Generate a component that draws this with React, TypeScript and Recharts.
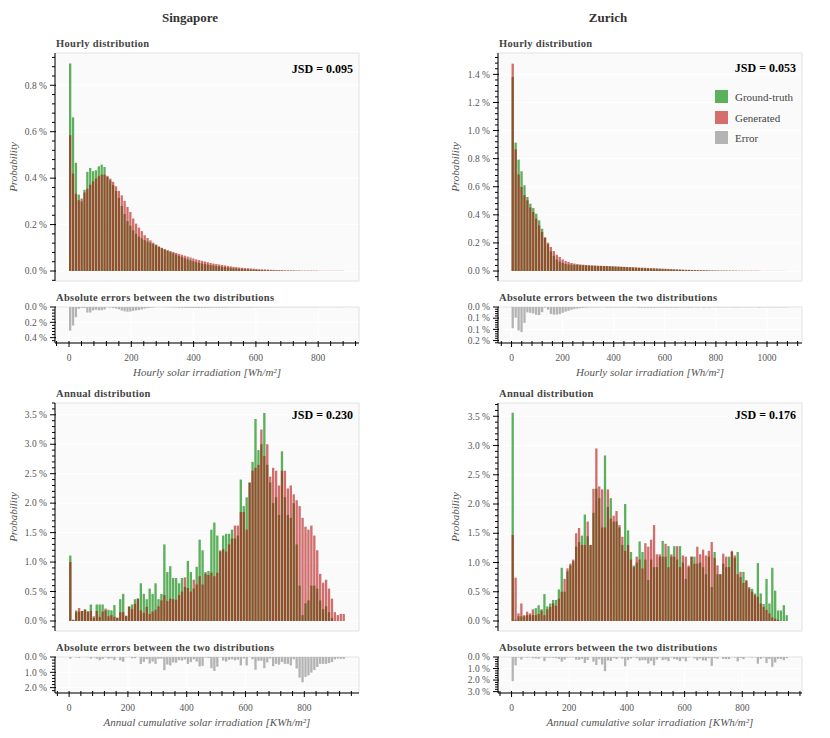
import { BarChart, Bar, XAxis, YAxis, CartesianGrid, ReferenceArea } from 'recharts'

const FONT = '"Liberation Serif", "Times New Roman", serif'
const GREEN = '#5cb05c'
const RED = 'rgb(178,16,14)'
const GREY = '#b4b4b4'

// ---- Singapore, hourly (bin width ~9.2 Wh/m²)
const SG_HOURLY_BIN = 9.2
const SG_HOURLY_GT = [
  0.894, 0.662, 0.466, 0.329, 0.30, 0.35, 0.427, 0.444, 0.43, 0.434,
  0.451, 0.458, 0.448, 0.405, 0.39, 0.37, 0.345, 0.315, 0.28, 0.245,
  0.215, 0.195, 0.175, 0.16, 0.148, 0.14, 0.133, 0.127, 0.122, 0.116,
  0.111, 0.104, 0.098, 0.092, 0.087, 0.081, 0.076, 0.071, 0.065, 0.06,
  0.055, 0.05, 0.046, 0.042, 0.038, 0.035, 0.032, 0.03, 0.028, 0.026,
  0.024, 0.022, 0.02, 0.018, 0.017, 0.015, 0.014, 0.012, 0.011, 0.01,
  0.009, 0.008, 0.007, 0.006, 0.006, 0.005, 0.004, 0.004, 0.003, 0.003,
  0.002, 0.002, 0.002, 0.002, 0.001, 0.001, 0.001, 0.001, 0.001, 0.001,
  0.001, 0, 0, 0, 0, 0, 0, 0, 0, 0,
  0, 0, 0, 0, 0, 0,
]
const SG_HOURLY_GEN = [
  0.585, 0.42, 0.333, 0.305, 0.312, 0.338, 0.355, 0.372, 0.386, 0.398,
  0.408, 0.415, 0.415, 0.41, 0.398, 0.384, 0.365, 0.345, 0.326, 0.302,
  0.276, 0.254, 0.226, 0.204, 0.187, 0.172, 0.154, 0.142, 0.132, 0.122,
  0.114, 0.106, 0.1, 0.095, 0.09, 0.086, 0.082, 0.078, 0.074, 0.07,
  0.066, 0.062, 0.058, 0.054, 0.05, 0.047, 0.044, 0.041, 0.038, 0.035,
  0.032, 0.03, 0.028, 0.026, 0.024, 0.022, 0.02, 0.018, 0.017, 0.015,
  0.014, 0.013, 0.012, 0.011, 0.01, 0.009, 0.008, 0.007, 0.007, 0.006,
  0.005, 0.005, 0.004, 0.004, 0.004, 0.003, 0.003, 0.003, 0.003, 0.002,
  0.002, 0.002, 0.002, 0.002, 0.002, 0.002, 0.002, 0.001, 0.001, 0.001,
  0.001, 0.001, 0.001, 0.001, 0.001, 0.001,
]

// ---- Zurich, hourly (bin width ~11.5 Wh/m²)
const ZH_HOURLY_BIN = 11.5
const ZH_HOURLY_GT = [
  1.381, 0.914, 0.793, 0.71, 0.61, 0.527, 0.479, 0.449, 0.408, 0.361,
  0.301, 0.237, 0.19, 0.14, 0.108, 0.082, 0.068, 0.057, 0.05, 0.047,
  0.045, 0.044, 0.043, 0.042, 0.041, 0.04, 0.039, 0.038, 0.037, 0.036,
  0.036, 0.035, 0.034, 0.033, 0.032, 0.031, 0.03, 0.029, 0.028, 0.027,
  0.026, 0.025, 0.024, 0.022, 0.021, 0.02, 0.019, 0.018, 0.017, 0.016,
  0.015, 0.014, 0.013, 0.012, 0.011, 0.01, 0.009, 0.009, 0.008, 0.007,
  0.007, 0.006, 0.006, 0.005, 0.005, 0.004, 0.004, 0.003, 0.003, 0.003,
  0.002, 0.002, 0.002, 0.002, 0.002, 0.002, 0.001, 0.001, 0.001, 0.001,
  0.001, 0.001, 0.001, 0.001, 0, 0, 0, 0, 0, 0,
  0, 0, 0, 0,
]
const ZH_HOURLY_GEN = [
  1.476, 0.866, 0.688, 0.598, 0.539, 0.503, 0.453, 0.42, 0.373, 0.325,
  0.278, 0.24, 0.202, 0.171, 0.142, 0.116, 0.1, 0.083, 0.071, 0.064,
  0.057, 0.053, 0.05, 0.047, 0.045, 0.043, 0.041, 0.04, 0.039, 0.038,
  0.037, 0.036, 0.036, 0.035, 0.034, 0.033, 0.032, 0.031, 0.03, 0.029,
  0.028, 0.027, 0.026, 0.025, 0.024, 0.023, 0.022, 0.021, 0.02, 0.019,
  0.018, 0.017, 0.016, 0.015, 0.014, 0.013, 0.012, 0.011, 0.01, 0.009,
  0.009, 0.008, 0.007, 0.007, 0.006, 0.006, 0.005, 0.005, 0.004, 0.004,
  0.004, 0.003, 0.003, 0.003, 0.003, 0.003, 0.003, 0.002, 0.002, 0.002,
  0.002, 0.002, 0.002, 0.002, 0.002, 0.001, 0.001, 0.001, 0.001, 0.001,
  0.001, 0.001, 0.001, 0.001,
]

// ---- Singapore, annual (bin width 10 KWh/m²)
const SG_ANNUAL_BIN = 10
const SG_ANNUAL_GT = [
  1.11, 0.02, 0.18, 0.16, 0.17, 0.2, 0.17, 0.28, 0.05, 0.28,
  0.28, 0.28, 0.18, 0.19, 0.18, 0.27, 0.05, 0.37, 0.46, 0.08,
  0.25, 0.28, 0.37, 0.38, 0.64, 0.46, 0.37, 0.55, 0.46, 0.64,
  0.37, 0.46, 1.3, 0.83, 0.93, 0.73, 0.73, 0.64, 0.73, 0.58,
  1.02, 0.83, 0.55, 0.92, 1.38, 1.2, 0.83, 0.85, 1.55, 1.67,
  1.45, 1.2, 1.45, 1.48, 1.48, 1.55, 1.4, 1.45, 2.4, 1.95,
  2.1, 2.35, 2.7, 3.43, 2.9, 3.0, 3.53, 2.65, 2.35, 2.0,
  2.1, 1.8, 2.88, 2.1, 1.8, 1.75, 2.0, 1.3, 0.6, 0.1,
  0.3, 0.35, 0.6, 0.6, 0.55, 0.35, 0.2, 0.25, 0.15, 0.05,
  0, 0, 0, 0,
]
const SG_ANNUAL_GEN = [
  1.0, 0.02, 0.15, 0.22, 0.17, 0.19, 0.15, 0.17, 0.08, 0.17,
  0.07, 0.16, 0.21, 0.08, 0.1, 0.07, 0.06, 0.15, 0.15, 0.09,
  0.24, 0.2, 0.29, 0.38, 0.18, 0.14, 0.24, 0.12, 0.16, 0.19,
  0.25, 0.35, 0.44, 0.34, 0.38, 0.37, 0.36, 0.44, 0.5, 0.74,
  0.56, 0.5, 0.7, 0.62, 0.76, 0.62, 0.8, 0.78, 0.82, 0.76,
  0.82, 1.18, 1.22, 1.18, 1.3, 1.4, 1.62, 1.62, 1.85, 1.85,
  1.55, 2.35, 2.55, 2.6, 2.65, 3.25, 2.8, 3.0, 2.45, 2.6,
  2.55, 2.3, 2.55, 2.55, 2.25, 2.3, 2.15, 2.05, 1.95, 1.75,
  1.6, 1.55, 1.62, 1.45, 1.2, 0.8, 0.65, 0.7, 0.55, 0.38,
  0.15, 0.1, 0.12, 0.12,
]

// ---- Zurich, annual (bin width 10 KWh/m²)
const ZH_ANNUAL_BIN = 10
const ZH_ANNUAL_GT = [
  3.56, 0.02, 0.08, 0.08, 0.08, 0.1, 0.1, 0.1, 0.22, 0.27,
  0.2, 0.46, 0.25, 0.3, 0.36, 0.36, 0.54, 0.91, 0.5, 0.85,
  0.95, 1.02, 1.27, 1.35, 1.46, 1.82, 1.45, 1.3, 1.85, 2.26,
  2.1, 1.6, 2.83, 1.95, 2.1, 1.7, 1.7, 1.6, 1.3, 2.0,
  1.55, 1.18, 0.95, 1.0, 1.36, 1.18, 1.05, 0.7, 1.05, 0.92,
  0.92, 1.1, 1.37, 1.1, 1.28, 1.1, 1.28, 1.05, 1.28, 1.0,
  0.72, 0.92, 1.1, 1.1, 0.98, 1.0, 0.92, 0.8, 1.1, 0.58,
  1.18, 0.8, 0.8, 0.98, 0.92, 1.1, 1.18, 1.08, 1.18, 0.75,
  0.84, 0.68, 0.55, 0.55, 0.47, 0.99, 0.47, 0.29, 0.72, 0.3,
  0.91, 0.52, 0.18, 0.18, 0.27, 0.1,
]
const ZH_ANNUAL_GEN = [
  1.47, 0.74, 0.13, 0.3, 0.1, 0.16, 0.13, 0.2, 0.1, 0.12,
  0.18, 0.1, 0.2, 0.24, 0.3, 0.26, 0.38, 0.5, 0.72, 0.9,
  0.98, 1.05, 1.5, 1.59, 1.3, 1.3, 1.7, 1.3, 2.26, 2.95,
  2.3, 2.25, 1.6, 2.25, 1.75, 1.8, 1.88, 1.64, 1.44, 1.2,
  1.3, 1.05, 0.92, 1.1, 1.05, 0.9, 1.33, 1.27, 1.39, 1.64,
  1.14, 1.14, 1.1, 1.32, 0.92, 1.14, 1.1, 1.28, 0.92, 1.12,
  1.1, 0.95, 1.1, 0.98, 1.27, 1.14, 1.22, 1.12, 1.2, 1.35,
  1.08, 0.95, 0.8, 1.15, 1.1, 0.92, 1.2, 1.12, 0.8, 0.84,
  0.65, 0.7, 0.58, 0.5, 0.44, 0.41, 0.3, 0.24, 0.19, 0.13,
  0.06, 0.04, 0.02, 0, 0, 0,
]

// ---- axis ticks & labels
const X_MAJOR_800 = [0, 200, 400, 600, 800]
const X_MAJOR_1000 = [0, 200, 400, 600, 800, 1000]
const Y_MAJOR_SG_HOURLY = [0, 0.2, 0.4, 0.6, 0.8]
const Y_LABELS_SG_HOURLY = ['0.0 %', '0.2 %', '0.4 %', '0.6 %', '0.8 %']
const Y_MAJOR_ZH_HOURLY = [0, 0.2, 0.4, 0.6, 0.8, 1.0, 1.2, 1.4]
const Y_LABELS_ZH_HOURLY = ['0.0 %', '0.2 %', '0.4 %', '0.6 %', '0.8 %', '1.0 %', '1.2 %', '1.4 %']
const Y_MAJOR_ANNUAL = [0, 0.5, 1, 1.5, 2, 2.5, 3, 3.5]
const Y_LABELS_ANNUAL = ['0.0 %', '0.5 %', '1.0 %', '1.5 %', '2.0 %', '2.5 %', '3.0 %', '3.5 %']
const ERR_MAJOR_SG_HOURLY = [0, 0.2, 0.4]
const ERR_LABELS_SG_HOURLY = ['0.0 %', '0.2 %', '0.4 %']
const ERR_MAJOR_ZH_HOURLY = [0, 0.05, 0.1, 0.15]
const ERR_LABELS_ZH_HOURLY = ['0.0 %', '0.1 %', '0.1 %', '0.2 %']
const ERR_MAJOR_SG_ANNUAL = [0, 1, 2]
const ERR_LABELS_SG_ANNUAL = ['0.0 %', '1.0 %', '2.0 %']
const ERR_MAJOR_ZH_ANNUAL = [0, 1, 2, 3]
const ERR_LABELS_ZH_ANNUAL = ['0.0 %', '1.0 %', '2.0 %', '3.0 %']

const PLOT_W = 304
const MAIN_H = 228
const ERR_H = 36
const AXIS_W = 55

function steps(lo: number, hi: number, step: number) {
  const out: number[] = []
  const start = Math.ceil(lo / step - 1e-9)
  for (let k = start; k * step <= hi + 1e-9; k++) out.push(+(k * step).toFixed(4))
  return out
}

const isIn = (list: number[], v: number) => list.findIndex(m => Math.abs(m - v) < 1e-6)

function YTick(props: any) {
  const { x, y, payload, major, labels } = props
  const k = isIn(major, payload.value)
  return (
    <g>
      <line x1={x - (k >= 0 ? 5 : 3)} x2={x + (k >= 0 ? 1 : 0)} y1={y} y2={y} stroke="#000" strokeWidth={1} />
      {k >= 0 && (
        <text x={x - 8} y={y} dy="0.34em" textAnchor="end" fontSize={9.5} fill="#555" fontFamily={FONT}>
          {labels[k]}
        </text>
      )}
    </g>
  )
}

function XTick(props: any) {
  const { x, y, payload, major } = props
  const k = isIn(major, payload.value)
  return (
    <g>
      <line x1={x} x2={x} y1={y - 2} y2={y + (k >= 0 ? 4 : 3)} stroke="#000" strokeWidth={1} />
      {k >= 0 && (
        <text x={x} y={y + 15} dy="0.34em" textAnchor="middle" fontSize={9.5} fill="#555" fontFamily={FONT}>
          {String(major[k])}
        </text>
      )}
    </g>
  )
}

function Txt({ x, y, align = 'left', style, children }: any) {
  const tx = align === 'center' ? '-50%' : align === 'right' ? '-100%' : '0'
  return (
    <div style={{ position: 'absolute', left: x, top: y, transform: `translate(${tx},-50%)`, whiteSpace: 'nowrap', fontFamily: FONT, lineHeight: 1, ...style }}>
      {children}
    </div>
  )
}

const subTitle = { fontWeight: 700, fontSize: 10.5, color: '#444', letterSpacing: 0.3 }
const axisTitle = { fontStyle: 'italic', fontSize: 11, color: '#555' }

function Panel(p: any) {
  const { left, top, errTop, bin, gt, gen, xDomain, xMajor, yDomain, yMajor, yLabels, yMinor, errDomain, errMajor, errLabels, errMinor } = p
  const rows = gt.map((g: number, i: number) => ({ x: (i + 0.5) * bin, gt: g, gen: gen[i], err: Math.abs(g - gen[i]) }))
  const xTicks = steps(xDomain[0], xDomain[1], 40)
  const yTicks = steps(yDomain[0], yDomain[1], yMinor)
  const errTicks = steps(errDomain[0], errDomain[1], errMinor)
  // bar width: a bit narrower than one bin, leaving a thin light gap
  const barSize = (bin * PLOT_W) / (xDomain[1] - xDomain[0]) * 0.8
  return (
    <>
      <div style={{ position: 'absolute', left: left - AXIS_W, top: top - 5 }}>
        <BarChart width={AXIS_W + PLOT_W + 5} height={MAIN_H + 10} data={rows} margin={{ top: 5, right: 5, bottom: 5, left: 0 }}>
          <CartesianGrid xAxisId="a" fill="#fafafa" fillOpacity={1} stroke="#ffffff" strokeWidth={1} verticalValues={xMajor} horizontalValues={yMajor} />
          <XAxis xAxisId="a" dataKey="x" type="number" domain={xDomain} allowDataOverflow ticks={xMajor} height={0} tick={false} tickLine={false} axisLine={false} />
          <XAxis xAxisId="b" dataKey="x" type="number" domain={xDomain} allowDataOverflow hide />
          <YAxis type="number" domain={yDomain} allowDataOverflow ticks={yTicks} interval={0} width={AXIS_W} tickSize={0} tickMargin={0} tickLine={false} axisLine={{ stroke: '#000' }}
            tick={(t: any) => <YTick {...t} major={yMajor} labels={yLabels} />} />
          <ReferenceArea xAxisId="a" x1={xDomain[0]} x2={xDomain[1]} y1={yDomain[0]} y2={yDomain[1]} fill="none" stroke="#e2e2e2" ifOverflow="visible" />
          <Bar xAxisId="a" dataKey="gt" fill={GREEN} barSize={barSize} isAnimationActive={false} />
          <Bar xAxisId="b" dataKey="gen" fill={RED} fillOpacity={0.6} barSize={barSize} isAnimationActive={false} />
        </BarChart>
      </div>
      <div style={{ position: 'absolute', left: left - AXIS_W, top: errTop - 5 }}>
        <BarChart width={AXIS_W + PLOT_W + 5} height={ERR_H + 50} data={rows} margin={{ top: 5, right: 5, bottom: 0, left: 0 }}>
          <CartesianGrid fill="#fafafa" fillOpacity={1} stroke="#ffffff" verticalValues={xMajor} horizontalValues={errMajor} />
          <XAxis dataKey="x" type="number" domain={xDomain} allowDataOverflow ticks={xTicks} interval={0} height={45} tickSize={0} tickMargin={0} tickLine={false} axisLine={{ stroke: '#000' }}
            tick={(t: any) => <XTick {...t} major={xMajor} />} />
          <YAxis type="number" reversed domain={errDomain} allowDataOverflow ticks={errTicks} interval={0} width={AXIS_W} tickSize={0} tickMargin={0} tickLine={false} axisLine={{ stroke: '#000' }}
            tick={(t: any) => <YTick {...t} major={errMajor} labels={errLabels} />} />
          <ReferenceArea x1={xDomain[0]} x2={xDomain[1]} y1={errDomain[0]} y2={errDomain[1]} fill="none" stroke="#e2e2e2" ifOverflow="visible" />
          <Bar dataKey="err" fill={GREY} barSize={barSize} isAnimationActive={false} />
        </BarChart>
      </div>
    </>
  )
}

export default function App() {
  const SG = 55
  const ZH = 498
  return (
    <div style={{ position: 'absolute', left: 0, top: 0, width: 830, height: 738, background: '#fff', fontFamily: FONT }}>
      <Txt x={190} y={17} align="center" style={{ fontWeight: 700, fontSize: 13, color: '#333' }}>Singapore</Txt>
      <Txt x={608} y={17} align="center" style={{ fontWeight: 700, fontSize: 13, color: '#333' }}>Zurich</Txt>

      {/* hourly row */}
      <Txt x={SG + 1} y={44} style={subTitle}>Hourly distribution</Txt>
      <Txt x={ZH + 1} y={44} style={subTitle}>Hourly distribution</Txt>
      <Txt x={SG + 1} y={298} style={subTitle}>Absolute errors between the two distributions</Txt>
      <Txt x={ZH + 1} y={298} style={subTitle}>Absolute errors between the two distributions</Txt>

      <Panel left={SG} top={53} errTop={307} bin={SG_HOURLY_BIN} gt={SG_HOURLY_GT} gen={SG_HOURLY_GEN}
        xDomain={[-45, 931]} xMajor={X_MAJOR_800} yDomain={[-0.043, 0.939]} yMajor={Y_MAJOR_SG_HOURLY} yLabels={Y_LABELS_SG_HOURLY} yMinor={0.04}
        errDomain={[0, 0.47]} errMajor={ERR_MAJOR_SG_HOURLY} errLabels={ERR_LABELS_SG_HOURLY} errMinor={0.04} />
      <Panel left={ZH} top={53} errTop={307} bin={ZH_HOURLY_BIN} gt={ZH_HOURLY_GT} gen={ZH_HOURLY_GEN}
        xDomain={[-53, 1137]} xMajor={X_MAJOR_1000} yDomain={[-0.071, 1.552]} yMajor={Y_MAJOR_ZH_HOURLY} yLabels={Y_LABELS_ZH_HOURLY} yMinor={0.04}
        errDomain={[0, 0.161]} errMajor={ERR_MAJOR_ZH_HOURLY} errLabels={ERR_LABELS_ZH_HOURLY} errMinor={0.01} />

      <Txt x={353} y={69} align="right" style={{ fontWeight: 700, fontSize: 12, color: '#000' }}>JSD = 0.095</Txt>
      <Txt x={796} y={68} align="right" style={{ fontWeight: 700, fontSize: 12, color: '#000' }}>JSD = 0.053</Txt>

      {/* legend */}
      <div style={{ position: 'absolute', left: 715, top: 90, width: 13, height: 13, background: GREEN }} />
      <div style={{ position: 'absolute', left: 715, top: 110.5, width: 13, height: 13, background: '#d36f6d' }} />
      <div style={{ position: 'absolute', left: 715, top: 131, width: 13, height: 13, background: GREY }} />
      <Txt x={735} y={97} style={{ fontSize: 11, color: '#444' }}>Ground-truth</Txt>
      <Txt x={735} y={117.5} style={{ fontSize: 11, color: '#444' }}>Generated</Txt>
      <Txt x={735} y={138} style={{ fontSize: 11, color: '#444' }}>Error</Txt>

      <Txt x={207} y={372} align="center" style={axisTitle}>Hourly solar irradiation [Wh/m²]</Txt>
      <Txt x={650} y={372} align="center" style={axisTitle}>Hourly solar irradiation [Wh/m²]</Txt>

      {/* annual row */}
      <Txt x={SG + 1} y={393.5} style={subTitle}>Annual distribution</Txt>
      <Txt x={ZH + 1} y={393.5} style={subTitle}>Annual distribution</Txt>
      <Txt x={SG + 1} y={648} style={subTitle}>Absolute errors between the two distributions</Txt>
      <Txt x={ZH + 1} y={648} style={subTitle}>Absolute errors between the two distributions</Txt>

      <Panel left={SG} top={403} errTop={657} bin={SG_ANNUAL_BIN} gt={SG_ANNUAL_GT} gen={SG_ANNUAL_GEN}
        xDomain={[-48, 986]} xMajor={X_MAJOR_800} yDomain={[-0.17, 3.7]} yMajor={Y_MAJOR_ANNUAL} yLabels={Y_LABELS_ANNUAL} yMinor={0.1}
        errDomain={[0, 2.35]} errMajor={ERR_MAJOR_SG_ANNUAL} errLabels={ERR_LABELS_SG_ANNUAL} errMinor={0.2} />
      <Panel left={ZH} top={403} errTop={657} bin={ZH_ANNUAL_BIN} gt={ZH_ANNUAL_GT} gen={ZH_ANNUAL_GEN}
        xDomain={[-47, 1007]} xMajor={X_MAJOR_800} yDomain={[-0.171, 3.727]} yMajor={Y_MAJOR_ANNUAL} yLabels={Y_LABELS_ANNUAL} yMinor={0.1}
        errDomain={[0, 3.12]} errMajor={ERR_MAJOR_ZH_ANNUAL} errLabels={ERR_LABELS_ZH_ANNUAL} errMinor={0.2} />

      <Txt x={353} y={415} align="right" style={{ fontWeight: 700, fontSize: 12, color: '#000' }}>JSD = 0.230</Txt>
      <Txt x={796} y={415} align="right" style={{ fontWeight: 700, fontSize: 12, color: '#000' }}>JSD = 0.176</Txt>

      <Txt x={207} y={722} align="center" style={axisTitle}>Annual cumulative solar irradiation [KWh/m²]</Txt>
      <Txt x={650} y={722} align="center" style={axisTitle}>Annual cumulative solar irradiation [KWh/m²]</Txt>

      {[167, 517].map(cy => [13, 455].map(cx => (
        <div key={`${cx}-${cy}`} style={{ position: 'absolute', left: cx, top: cy, transform: 'translate(-50%,-50%) rotate(-90deg)', whiteSpace: 'nowrap', fontFamily: FONT, fontStyle: 'italic', fontSize: 11, color: '#555', lineHeight: 1 }}>
          Probability
        </div>
      )))}
    </div>
  )
}
